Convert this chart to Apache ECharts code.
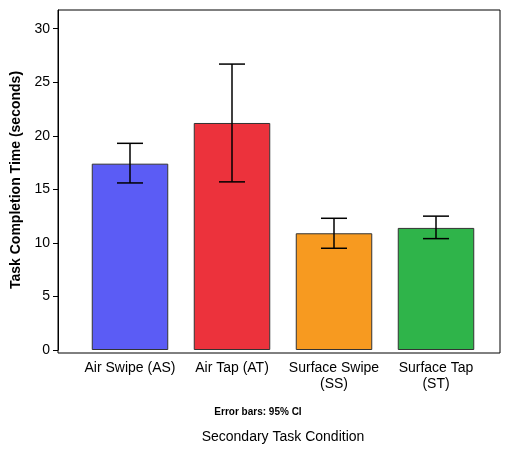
<!DOCTYPE html><html><head><meta charset="utf-8">
<script src="https://cdn.jsdelivr.net/npm/echarts@6/dist/echarts.min.js"></script>
<style>html,body{margin:0;padding:0;background:#fff}#c{width:516px;height:449px}</style></head><body><div id="c"></div>
<script>
const categories=["Air Swipe (AS)","Air Tap (AT)","Surface Swipe\n(SS)","Surface Tap\n(ST)"];
const means=[17.4,21.2,10.9,11.4];
const ciLow=[15.6,15.7,9.5,10.4];
const ciHigh=[19.3,26.7,12.3,12.5];
const colors=["#5b5cf5","#ec323c","#f79a20","#2fb44a"];
const yTicks=[0,5,10,15,20,25,30];
const chart=echarts.init(document.getElementById('c'));
chart.setOption({
  animation:false,
  grid:{left:79,right:29,top:10,bottom:96},
  graphic:[{type:'rect',shape:{x:58,y:10,width:442,height:343},style:{fill:'none',stroke:'#000',lineWidth:1},silent:true}],
  title:[{text:'Error bars: 95% CI',left:'center',top:402,textStyle:{fontSize:10,fontWeight:'bold',fontFamily:'Liberation Sans',color:'#000'}}],
  xAxis:{type:'category',data:categories,name:'Secondary Task Condition',nameLocation:'middle',nameGap:80,
    nameTextStyle:{fontSize:14,fontFamily:'Liberation Sans',color:'#000'},
    axisTick:{show:false},axisLine:{show:false},
    axisLabel:{fontSize:14,fontFamily:'Liberation Sans',color:'#000',lineHeight:16,margin:10,interval:0}},
  yAxis:{type:'value',min:0,max:31.75,interval:5,splitLine:{show:false},offset:21,
    name:'Task Completion Time (seconds)',nameLocation:'middle',nameGap:30,
    nameTextStyle:{fontSize:14,fontWeight:'bold',fontFamily:'Liberation Sans',color:'#000'},
    axisLine:{show:true,lineStyle:{color:'#000'}},axisTick:{show:true,length:5,lineStyle:{color:'#000'}},
    axisLabel:{fontSize:14,fontFamily:'Liberation Sans',color:'#000',showMaxLabel:false,
      formatter:v=>yTicks.includes(v)?String(v):''}},
  series:[
    {type:'bar',barWidth:'75%',data:means.map((v,i)=>({value:v,itemStyle:{color:colors[i],borderColor:'#333',borderWidth:1}}))},
    {type:'custom',data:means.map((v,i)=>[i,ciLow[i],ciHigh[i]]),z:5,
     renderItem:(p,api)=>{const lo=api.coord([api.value(0),api.value(1)]);const hi=api.coord([api.value(0),api.value(2)]);const w=13;
       const st={stroke:'#000',lineWidth:1.5};
       return {type:'group',children:[
         {type:'line',shape:{x1:lo[0],y1:lo[1],x2:hi[0],y2:hi[1]},style:st},
         {type:'line',shape:{x1:lo[0]-w,y1:lo[1],x2:lo[0]+w,y2:lo[1]},style:st},
         {type:'line',shape:{x1:hi[0]-w,y1:hi[1],x2:hi[0]+w,y2:hi[1]},style:st}]};}}
  ]
});
</script></body></html>
